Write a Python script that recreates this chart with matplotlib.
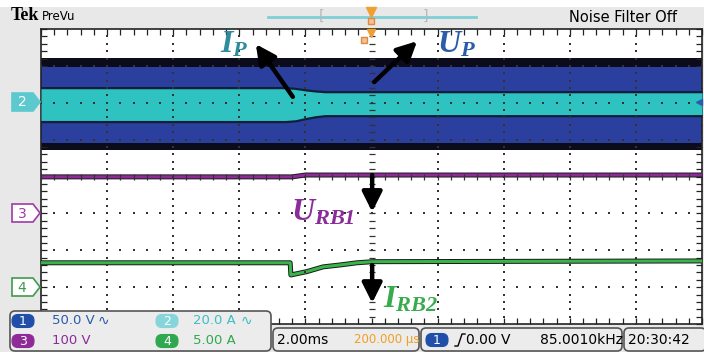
import numpy as np
import matplotlib
matplotlib.use('Agg')
import matplotlib.pyplot as plt
from matplotlib.patches import FancyBboxPatch, Polygon
import matplotlib.patheffects as pe

plt.rcParams['mathtext.fontset'] = 'custom'
plt.rcParams['mathtext.it'] = 'Liberation Serif:italic:bold'
plt.rcParams['mathtext.rm'] = 'Liberation Serif:italic:bold'
plt.rcParams['mathtext.bf'] = 'Liberation Serif:italic:bold'

SANS = ['DejaVu Sans']

# ---- data (screen divisions: x 0..10, y 0..8 from bottom) ----
# CH1 (U_P) envelope, constant over the record
ch1_x = [0, 10]
ch1_edge_hi = [7.21, 7.21]
ch1_edge_lo = [4.72, 4.72]
ch1_hi = [6.97, 6.97]
ch1_lo = [4.91, 4.91]

# CH2 (I_P) envelope, narrows after the step
ch2_x = [0, 3.70, 3.85, 4.00, 4.15, 4.30, 10]
ch2_hi = [6.44, 6.44, 6.42, 6.38, 6.35, 6.33, 6.33]
ch2_lo = [5.46, 5.46, 5.48, 5.54, 5.59, 5.62, 5.62]

# CH3 (U_RB1)
ch3_x = [0, 3.80, 4.00, 10]
ch3_y = [3.99, 3.99, 4.04, 4.04]

# CH4 (I_RB2)
ch4_x = [0, 3.77, 3.78, 4.02, 4.27, 4.52, 4.78, 5.02, 10]
ch4_y = [1.66, 1.66, 1.33, 1.42, 1.55, 1.60, 1.66, 1.69, 1.71]

# annotation arrows: (tail, tip)
arrows = [((3.81, 6.16), (3.25, 7.59)),
          ((5.04, 6.56), (5.69, 7.67)),
          ((5.01, 4.04), (5.01, 3.04)),
          ((5.01, 1.60), (5.01, 0.57))]
labels = [r'$I_{P}$', r'$U_{P}$', r'$U_{RB1}$', r'$I_{RB2}$']
label_pos = [(2.71, 7.35), (5.99, 7.35), (3.78, 2.82), (5.17, 0.44)]
label_col = ['#2e8c9c', '#2a5caa', '#8a2d9a', '#3aaa4f']

fig = plt.figure(figsize=(7.04, 3.52), dpi=100)
fig.patch.set_facecolor('#e8e8e8')

ax = fig.add_axes([41 / 704, 28 / 352, 661 / 704, 295 / 352])
ax.set_xlim(0, 10)
ax.set_ylim(0, 8)
ax.set_facecolor('white')

# traces
ax.fill_between(ch1_x, ch1_edge_lo, ch1_edge_hi, color='#0b0b1c', lw=0, zorder=1)
ax.fill_between(ch1_x, ch1_lo, ch1_hi, color='#2b3f9e', lw=0, zorder=2)
ax.fill_between(ch2_x, ch2_lo, ch2_hi, color='#0f1f3a', lw=0, zorder=3)
ax.fill_between(ch2_x, np.array(ch2_lo) + 0.06, np.array(ch2_hi) - 0.06,
                color='#2ec2c0', lw=0, zorder=4)
ax.plot(ch3_x, ch3_y, color='#8e2b98', lw=2.2, zorder=5,
        path_effects=[pe.Stroke(linewidth=3.6, foreground='#1a1a1a'), pe.Normal()])
ax.plot(ch4_x, ch4_y, color='#38b44a', lw=2.2, zorder=5,
        path_effects=[pe.Stroke(linewidth=3.6, foreground='#1a1a1a'), pe.Normal()])

# graticule
yy = np.arange(0, 8.01, 0.2)
xx = np.arange(0, 10.01, 0.2)
for gx in range(1, 10):
    if gx != 5:
        ax.scatter(np.full_like(yy, gx), yy, s=2.2, color='#333333', marker='s', lw=0, zorder=8)
for gy in range(1, 8):
    if gy != 4:
        ax.scatter(xx, np.full_like(xx, gy), s=2.2, color='#333333', marker='s', lw=0, zorder=8)
ax.scatter(np.full_like(yy, 5), yy, s=14, color='#333333', marker='_', lw=0.9, zorder=8)
ax.scatter(xx, np.full_like(xx, 4), s=14, color='#333333', marker='|', lw=0.9, zorder=8)

ax.set_xticks(np.arange(0, 10.01, 0.2))
ax.set_yticks(np.arange(0, 8.01, 0.2))
ax.tick_params(direction='in', length=4, width=0.9, top=True, right=True,
               labelbottom=False, labelleft=False, color='#222222')
for s in ax.spines.values():
    s.set_linewidth(1.2)
    s.set_color('#222222')

# annotations
for (tail, tip) in arrows:
    ax.annotate('', xy=tip, xytext=tail,
                arrowprops=dict(arrowstyle='-|>', lw=3.2, color='black',
                                mutation_scale=30, shrinkA=0, shrinkB=0),
                zorder=9)
for txt, (lx, ly), c in zip(labels, label_pos, label_col):
    ax.text(lx, ly, txt, color=c, fontsize=23, ha='left', va='baseline', zorder=10)

# ---- oscilloscope screen furniture, in pixel coordinates ----
ov = fig.add_axes([0, 0, 1, 1], zorder=5)
ov.set_xlim(0, 704)
ov.set_ylim(352, 0)
ov.axis('off')
ov.patch.set_visible(False)

ov.add_patch(plt.Rectangle((0, 0), 704, 7, color='white', lw=0))
ov.text(11, 16, 'Tek', fontsize=13, fontweight='bold', family='Liberation Serif',
        va='center', ha='left')
ov.text(42, 16, 'PreVu', fontsize=8.5, family=SANS, va='center', ha='left')
ov.plot([268, 476], [17, 17], color='#7fcfd6', lw=2)
ov.text(322, 16, '[', fontsize=10, color='#b8b8b8', va='center', ha='center')
ov.text(425, 16, ']', fontsize=10, color='#b8b8b8', va='center', ha='center')
ov.plot([371], [12], marker='v', color='#f0a030', ms=7, mec='#f0a030')
ov.plot([371], [21], marker='s', color='#f3c09a', ms=5, mec='#e08a40')
ov.plot([371], [33], marker='v', color='#f0a030', ms=6)
ov.plot([364], [40], marker='s', color='#f3c09a', ms=5, mec='#e08a40')
ov.text(569, 17, 'Noise Filter Off', fontsize=10.5, family=SANS, va='center', ha='left')

# channel markers on the left
def ch_marker(y, col, num, filled):
    pts = [(12, y - 9), (33, y - 9), (40, y), (33, y + 9), (12, y + 9)]
    ov.add_patch(Polygon(pts, closed=True, facecolor=col if filled else 'white',
                         edgecolor=col, lw=1.2))
    ov.text(22, y + 0.5, num, color='white' if filled else col, fontsize=10,
            family=SANS, ha='center', va='center')

ch_marker(102, '#5cc9cf', '2', True)
ch_marker(213, '#a03aa8', '3', False)
ch_marker(287, '#3f9a4a', '4', False)
ov.plot([699], [102], marker='<', color='#2a5caa', ms=5)

# bottom info boxes
def box(x0, y0, x1, y1):
    ov.add_patch(FancyBboxPatch((x0, y0), x1 - x0, y1 - y0,
                                boxstyle='round,pad=0,rounding_size=5',
                                facecolor='#ececec', edgecolor='#555555', lw=1.2))

def badge(x, y, col, num):
    ov.add_patch(FancyBboxPatch((x - 11, y - 6.5), 22, 13,
                                boxstyle='round,pad=0,rounding_size=6',
                                facecolor=col, edgecolor=col, lw=0.8))
    ov.text(x, y + 0.5, num, color='white', fontsize=9, family=SANS,
            ha='center', va='center')

box(10, 311, 271, 351)
box(273, 328, 419, 351)
box(421, 328, 622, 351)
box(624, 328, 706, 351)

badge(23, 321, '#1f4fa8', '1')
ov.text(52, 321, '50.0 V', color='#2a5caa', fontsize=9.5, family=SANS, va='center')
ov.text(98, 321, '\u223f', color='#2a5caa', fontsize=10, va='center')
badge(167, 321, '#86d5da', '2')
ov.text(193, 321, '20.0 A', color='#3fbcc4', fontsize=9.5, family=SANS, va='center')
ov.text(241, 321, '\u223f', color='#3fbcc4', fontsize=10, va='center')
badge(23, 341, '#8e2b98', '3')
ov.text(52, 341, '100 V', color='#8e2b98', fontsize=9.5, family=SANS, va='center')
badge(167, 341, '#2fa84f', '4')
ov.text(193, 341, '5.00 A', color='#2fa84f', fontsize=9.5, family=SANS, va='center')

ov.text(277, 340, '2.00ms', color='black', fontsize=10, family=SANS, va='center')
ov.text(354, 340, '200.000 \u00b5s', color='#f0a020', fontsize=8.5, family=SANS,
        va='center')
badge(437, 340, '#1f4fa8', '1')
ov.plot([455, 458, 462, 465], [346, 346, 334, 334], color='black', lw=1)
ov.text(466, 340, '0.00 V', color='black', fontsize=10, family=SANS, va='center')
ov.text(540, 340, '85.0010kHz', color='black', fontsize=10, family=SANS, va='center')
ov.text(628, 340, '20:30:42', color='black', fontsize=10, family=SANS, va='center')

fig.savefig('out.png', dpi=100, facecolor=fig.get_facecolor())
